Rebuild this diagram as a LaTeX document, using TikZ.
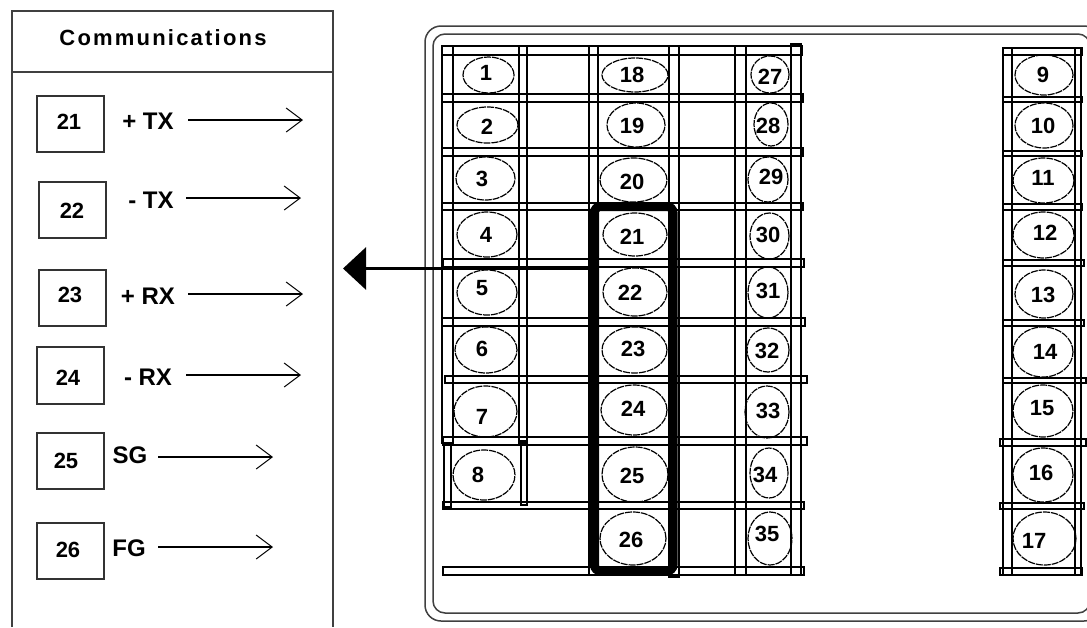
\documentclass[tikz,border=0pt]{standalone}
\usepackage{fontspec}
\setmainfont{Liberation Sans}[BoldFont={Liberation Sans Bold}]
\newfontfamily\widebold[LetterSpace=10]{Liberation Sans Bold}
\usetikzlibrary{shapes.geometric,arrows.meta}
\tikzset{
  x=1pt,y=-1pt,
  wire/.style={draw=black,line width=1.4pt},
  frame/.style={draw=black!75,line width=1.5pt},
  term/.style={ellipse,draw=black,line width=1.2pt,dash pattern=on 7pt off 1pt,inner sep=0pt,outer sep=0pt},
  num/.style={font=\bfseries\fontsize{22}{24}\selectfont,inner sep=0pt},
  boxed/.style={rectangle,draw=black!80,line width=1.4pt,inner sep=0pt,outer sep=0pt},
  lab/.style={font=\bfseries\fontsize{24}{26}\selectfont,inner sep=0pt},
  sig/.style={draw=black,line width=1.2pt,-{Straight Barb[length=16pt,width=24pt,line width=1pt]}},
  bus/.style={rectangle,draw=black,line width=9pt,rounded corners=6pt,inner sep=0pt,outer sep=0pt},
}
\begin{document}
\begin{tikzpicture}
\useasboundingbox (0,0) rectangle (1087,627);
\clip (0,0) rectangle (1087,627);
\fill[white] (0,0) rectangle (1087,627);

% left panel
\draw[frame] (12,627) -- (12,11) -- (333,11) -- (333,627);
\draw[frame] (12,72) -- (333,72);
\node[font=\widebold\fontsize{22}{24}\selectfont,inner sep=0pt] (title) at (163,38) {Communications};

% signal boxes, labels and arrows
\foreach \n/\xa/\ya/\xb/\yb/\tx/\ty/\lx/\ly/\txt/\sx/\ex/\sy in {
  21/37/96/104/152/69/122/148/121/{+ TX}/188/303/120,
  22/39/182/106/238/72/211/151/200/{- TX}/186/301/198,
  23/39/270/106/326/70/295/148/296/{+ RX}/188/303/294,
  24/37/347/104/404/68/378/148/377/{- RX}/186/301/375,
  25/37/433/104/489/66/461/130/455/{SG}/158/273/457,
  26/37/523/104/579/68/550/129/548/{FG}/158/273/547}{
  \node[boxed,minimum width=\xb-\xa,minimum height=\yb-\ya] (box\n) at ({(\xa+\xb)/2},{(\ya+\yb)/2}) {};
  \node[num] (boxnum\n) at (\tx,\ty) {\n};
  \node[lab] (sig\n) at (\lx,\ly) {\txt};
  \coordinate (from\n) at (\sx,\sy);
  \coordinate (to\n) at (\ex,\sy);
  \draw[sig] (from\n) -- (to\n);
}

% outer housing
\draw[frame,rounded corners=16pt] (425,26) rectangle (1100,621);
\draw[frame,rounded corners=12pt] (433,34) rectangle (1090,613);

% main terminal block: horizontal bars
\foreach \ya/\yb/\xa/\xb in {46/55/442/802,94/102/442/803,148/156/442/803,203/210/442/803,
  259/267/443/804,318/326/442/805,376/383/445/807,437/445/443/807,502/509/443/804,567/575/443/804}{
  \draw[wire] (\xa,\ya) rectangle (\xb,\yb);
}
% main terminal block: vertical bars
\foreach \xa/\xb/\ya/\yb in {442/453/46/443,444/451/443/507,519/527/46/443,521/527/441/505,
  589/598/46/575,669/679/46/577,735/746/46/575,791/801/44/575}{
  \draw[wire] (\xa,\ya) rectangle (\xb,\yb);
}
% right terminal block
\foreach \ya/\yb/\xa/\xb in {48/55/1003/1082,97/102/1003/1082,151/156/1003/1082,204/210/1003/1082,
  260/266/1003/1084,320/326/1003/1084,378/383/1003/1086,439/446/1000/1086,503/509/1000/1084,568/575/1000/1082}{
  \draw[wire] (\xa,\ya) rectangle (\xb,\yb);
}
\foreach \xa/\xb in {1003/1012,1075/1081}{
  \draw[wire] (\xa,48) rectangle (\xb,575);
}

% terminals: number / ellipse x-range / y-range / text position
\foreach \n/\xa/\xb/\ya/\yb/\tx/\ty in {
  1/463/514/57/93/486/73, 2/457/518/107/143/487/127, 3/456/515/157/200/482/179,
  4/457/517/212/257/486/235, 5/457/517/270/315/482/288, 6/455/517/327/373/482/349,
  7/454/517/386/437/482/417, 8/453/515/450/500/478/475,
  18/602/668/58/92/632/75, 19/607/665/103/147/632/126, 20/600/667/158/202/632/182,
  21/603/667/213/256/632/237, 22/603/667/268/316/630/293, 23/602/667/327/373/633/349,
  24/601/667/385/435/633/409, 25/602/668/447/502/632/476, 26/600/666/512/565/631/540,
  27/751/789/56/93/770/77, 28/754/788/103/146/768/126, 29/748/788/157/202/771/177,
  30/750/789/213/259/768/235, 31/748/788/267/318/768/291, 32/747/789/328/372/767/351,
  33/745/789/386/438/768/411, 34/750/788/448/498/765/475, 35/748/792/512/565/767/534,
  9/1015/1073/55/95/1043/75, 10/1015/1073/103/148/1043/126, 11/1013/1074/158/203/1043/178,
  12/1013/1074/212/258/1045/233, 13/1015/1073/270/318/1043/295, 14/1013/1073/327/377/1045/352,
  15/1013/1073/385/437/1042/408, 16/1013/1073/448/502/1041/473, 17/1013/1076/512/565/1034/541}{
  \node[term,minimum width=\xb-\xa,minimum height=\yb-\ya] (term\n) at ({(\xa+\xb)/2},{(\ya+\yb)/2}) {};
  \node[num] (num\n) at (\tx,\ty) {\n};
}

% highlighted communications group and pointer
\node[bus,minimum width=78.5pt,minimum height=364.5pt] (group) at (633.75,388.75) {};
\coordinate (pointer) at (343,268.5);
\draw[line width=3pt,-{Triangle[length=23pt,width=42pt]}] (pointer -| group.west) -- (pointer);
\end{tikzpicture}
\end{document}
